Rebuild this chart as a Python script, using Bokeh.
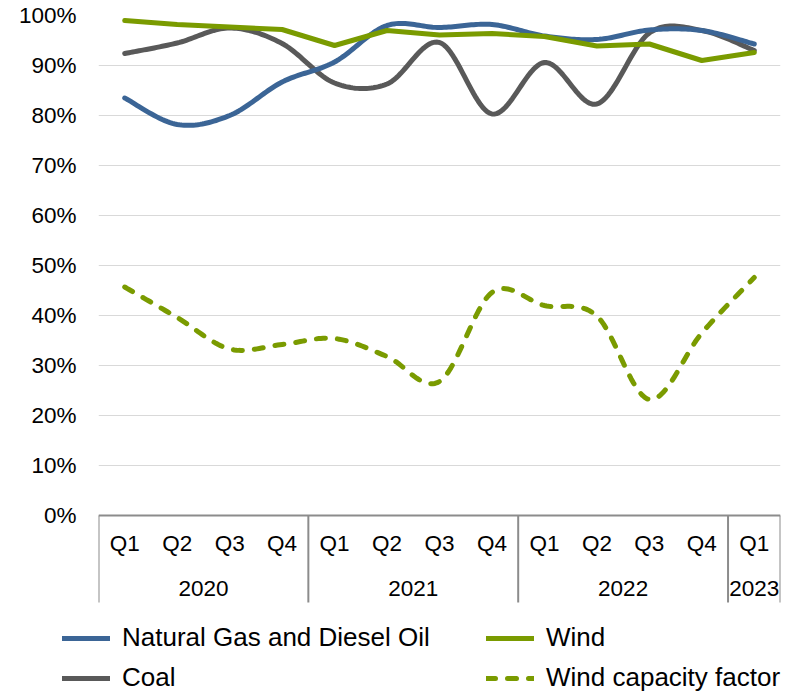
import numpy as np
from bokeh.plotting import figure
from bokeh.layouts import column
from bokeh.models import Range1d, FixedTicker, Legend, LegendItem, CustomJSTickFormatter
from bokeh.core.properties import value
from bokeh.embed import file_html
from bokeh.resources import INLINE

# ---- data ----
years = ["2020", "2021", "2022", "2023"]
quarters_per_year = [4, 4, 4, 1]
quarters = ["Q1", "Q2", "Q3", "Q4", "Q1", "Q2", "Q3", "Q4", "Q1", "Q2", "Q3", "Q4", "Q1"]

gas = [83.5, 78.2, 80.0, 86.7, 90.7, 98.0, 97.6, 98.2, 95.9, 95.2, 97.1, 97.0, 94.3]
coal = [92.4, 94.5, 97.5, 94.4, 86.5, 86.3, 94.6, 80.3, 90.6, 82.3, 96.5, 97.0, 93.0]
wind = [99.0, 98.2, 97.7, 97.2, 94.0, 97.0, 96.1, 96.4, 95.8, 93.9, 94.3, 91.0, 92.6]
wind_cf = [45.7, 39.6, 33.3, 34.2, 35.4, 31.8, 26.8, 44.6, 42.0, 39.9, 23.2, 36.5, 47.6]
y_ticks = list(range(0, 101, 10))

FONT = "Liberation Sans"
BLUE = "#3B6596"
GRAY = "#595959"
GREEN = "#7A9B00"
AXIS_GRAY = "#8C8C8C"


def smooth(xs, ys, n=24):
    pts = np.column_stack([xs, ys]).astype(float)
    m = len(pts)
    out = []
    t = np.linspace(0, 1, n)[:, None]
    for i in range(m - 1):
        p0 = pts[i - 1] if i > 0 else pts[i]
        p1 = pts[i]
        p2 = pts[i + 1]
        p3 = pts[i + 2] if i + 2 < m else pts[i + 1]
        c1 = p1 + (p2 - p0) / 6.0
        c2 = p2 - (p3 - p1) / 6.0
        seg = ((1 - t) ** 3) * p1 + 3 * ((1 - t) ** 2) * t * c1 + 3 * (1 - t) * t ** 2 * c2 + t ** 3 * p2
        if i > 0:
            seg = seg[1:]
        out.append(seg)
    arr = np.vstack(out)
    return arr[:, 0], arr[:, 1]


n = len(quarters)
xc = np.arange(n) + 0.5

p = figure(width=798, height=610, output_backend="svg", toolbar_location=None,
           x_range=Range1d(0, n), y_range=Range1d(-19, 100),
           min_border_left=98, min_border_right=18, min_border_top=15, min_border_bottom=0)
p.outline_line_color = None
p.xaxis.visible = False
p.xgrid.visible = False

p.yaxis.ticker = FixedTicker(ticks=y_ticks)
p.yaxis.formatter = CustomJSTickFormatter(code="return tick.toFixed(0) + '%';")
p.yaxis.axis_line_color = None
p.yaxis.major_tick_line_color = None
p.yaxis.minor_tick_line_color = None
p.yaxis.major_tick_out = 0
p.yaxis.major_label_standoff = 22
p.yaxis.major_label_text_font = FONT
p.yaxis.major_label_text_font_size = "22.5px"
p.yaxis.major_label_text_color = "black"

p.ygrid.ticker = FixedTicker(ticks=y_ticks[1:])
p.ygrid.grid_line_color = "#D9D9D9"
p.ygrid.grid_line_width = 1

# category axis boxes
bounds = [0] + list(np.cumsum(quarters_per_year))
p.segment(x0=[0], y0=[0], x1=[n], y1=[0], line_color=AXIS_GRAY, line_width=2)
p.segment(x0=bounds, y0=[0] * len(bounds), x1=bounds, y1=[-17.4] * len(bounds),
          line_color=AXIS_GRAY, line_width=2)
p.text(x=xc, y=[-5.6] * n, text=quarters, text_font=value(FONT), text_font_size="22.5px",
       text_align="center", text_baseline="middle", text_color="black")
ymid = [(bounds[i] + bounds[i + 1]) / 2 for i in range(len(years))]
p.text(x=ymid, y=[-14.6] * len(years), text=years, text_font=value(FONT), text_font_size="22.5px",
       text_align="center", text_baseline="middle", text_color="black")

styles = {
    "coal": dict(line_color=GRAY, line_width=5, line_join="round", line_cap="round"),
    "gas": dict(line_color=BLUE, line_width=5, line_join="round", line_cap="round"),
    "wind": dict(line_color=GREEN, line_width=5, line_join="round", line_cap="round"),
    "cf": dict(line_color=GREEN, line_width=5, line_dash="9 12", line_join="round", line_cap="round"),
}

sx, sy = smooth(xc, coal)
p.line(sx, sy, **styles["coal"])
sx, sy = smooth(xc, gas)
p.line(sx, sy, **styles["gas"])
p.line(xc, wind, **styles["wind"])
sx, sy = smooth(xc, wind_cf)
p.line(sx, sy, **styles["cf"])

# ---- legend strip below ----
lf = figure(width=798, height=81, output_backend="svg", toolbar_location=None,
            x_range=Range1d(0, 798), y_range=Range1d(0, 81),
            min_border_left=0, min_border_right=0, min_border_top=0, min_border_bottom=0)
lf.outline_line_color = None
lf.axis.visible = False
lf.grid.visible = False
for fig in (p, lf):
    if "frame_align" in fig.properties():
        fig.frame_align = False
# off-screen proxies carrying each series' line style for the legend
lr = {k: lf.line(x=[-200, -100], y=[-200, -200], **s) for k, s in styles.items()}


def make_legend(items, loc):
    return Legend(items=items, location=loc, padding=0, margin=0, spacing=9,
                  glyph_width=48, glyph_height=28, label_height=28, label_standoff=12,
                  label_text_font=FONT, label_text_font_size="26px", label_text_color="black",
                  border_line_alpha=0, background_fill_alpha=0)


legA = make_legend([LegendItem(label="Natural Gas and Diesel Oil", renderers=[lr["gas"]]),
                    LegendItem(label="Coal", renderers=[lr["coal"]])], (62, -2))
legB = make_legend([LegendItem(label="Wind", renderers=[lr["wind"]]),
                    LegendItem(label="Wind capacity factor", renderers=[lr["cf"]])], (486, -2))
lf.add_layout(legA)
lf.add_layout(legB)

layout = column(p, lf, spacing=0)
open("out.html", "w").write(file_html(layout, INLINE))
